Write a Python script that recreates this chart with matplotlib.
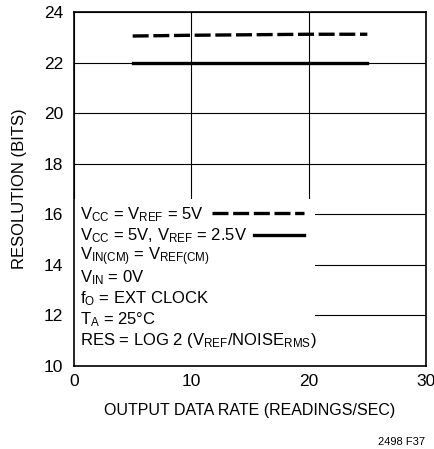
import matplotlib
matplotlib.use("Agg")
import matplotlib.pyplot as plt
from matplotlib import font_manager
import matplotlib.patches as mpatches
from matplotlib.lines import Line2D

names = {f.name for f in font_manager.fontManager.ttflist}
fam = 'Liberation Sans Narrow' if 'Liberation Sans Narrow' in names else 'Liberation Sans'
plt.rcParams['font.family'] = [fam, 'DejaVu Sans']
plt.rcParams['mathtext.fontset'] = 'custom'
plt.rcParams['mathtext.rm'] = fam
plt.rcParams['mathtext.it'] = fam

rate_5v = [5, 10, 15, 20, 25]
res_5v = [23.05, 23.08, 23.1, 23.12, 23.12]
rate_25v = [5, 10, 15, 20, 25]
res_25v = [22.0, 22.0, 22.0, 22.0, 22.0]

xticks = [0, 10, 20, 30]
yticks = [10, 12, 14, 16, 18, 20, 22, 24]

fig = plt.figure(figsize=(4.35, 4.49), dpi=100)
ax = fig.add_axes([74/435, 1-366/449, (426-74)/435, (366-12)/449])
ax.set_xlim(0, 30)
ax.set_ylim(10, 24)
ax.set_xticks(xticks)
ax.set_yticks(yticks)
ax.grid(True, color='black', linewidth=0.8)
ax.tick_params(length=0, labelsize=12.5)
ax.tick_params(axis='y', pad=8)
ax.tick_params(axis='x', pad=6)
for s in ax.spines.values():
    s.set_linewidth(1.2)

dash = (0, (4.8, 1.4))
ax.plot(rate_5v, res_5v, color='black', lw=2.4, ls=dash, zorder=3)
ax.plot(rate_25v, res_25v, color='black', lw=2.4, zorder=3)

# white box for annotation
ax.add_patch(mpatches.Rectangle((0, 10), 20.5, 6.6, facecolor='white', edgecolor='none', zorder=2.5, transform=ax.transData))

lines = [
    r'$\mathrm{V_{CC}}$ = $\mathrm{V_{REF}}$ = 5V',
    r'$\mathrm{V_{CC}}$ = 5V, $\mathrm{V_{REF}}$ = 2.5V',
    r'$\mathrm{V_{IN(CM)}}$ = $\mathrm{V_{REF(CM)}}$',
    r'$\mathrm{V_{IN}}$ = 0V',
    r'$\mathrm{f_{O}}$ = EXT CLOCK',
    r'$\mathrm{T_{A}}$ = 25°C',
    r'RES = LOG 2 ($\mathrm{V_{REF}}$/$\mathrm{NOISE_{RMS}}$)',
]
y0 = 15.98
dy = 0.83
for i, t in enumerate(lines):
    ax.text(0.5, y0 - i*dy, t, fontsize=12, va='center', ha='left', zorder=4)

ax.add_line(Line2D([11.8, 19.6], [16.05, 16.05], color='black', lw=2.4, ls=dash, zorder=4))
ax.add_line(Line2D([15.3, 19.6], [15.2, 15.2], color='black', lw=2.4, zorder=4))

ax.set_xlabel('OUTPUT DATA RATE (READINGS/SEC)', fontsize=11.5, labelpad=10)
ax.set_ylabel('RESOLUTION (BITS)', fontsize=12, labelpad=12)

fig.text(425/435, 1-442/449, '2498 F37', fontsize=8, ha='right', va='center')

fig.savefig('out.png', dpi=100)
